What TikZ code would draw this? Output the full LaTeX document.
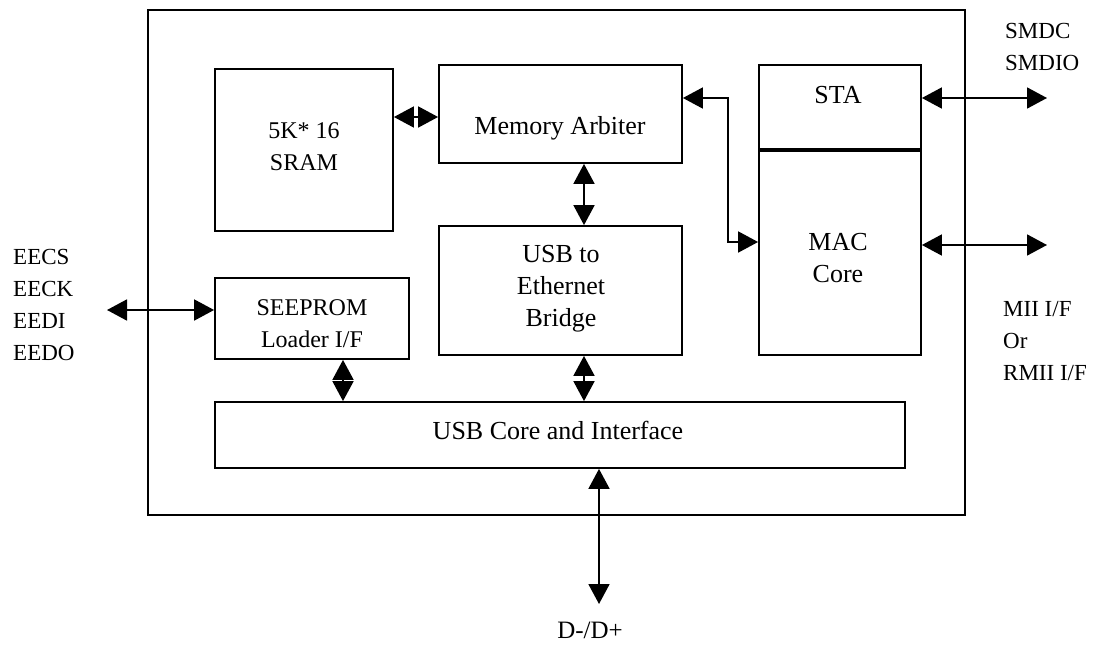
\documentclass[tikz,border=0pt]{standalone}
\usepackage{fontspec}
\setmainfont{Liberation Serif}
\usetikzlibrary{arrows.meta,calc}
\begin{document}
\begin{tikzpicture}[x=1pt,y=-1pt,
  box/.style={draw,line width=1.8pt,rectangle,inner sep=0pt},
  lbl/.style={font=\fontsize{26}{32}\selectfont,align=center,anchor=base,inner sep=0pt},
  lblsm/.style={font=\fontsize{24}{32}\selectfont,align=center,anchor=base,inner sep=0pt},
  side/.style={font=\fontsize{23}{31.7}\selectfont,align=left,anchor=base west,inner sep=0pt},
  tipA/.tip={Triangle[length=20pt,width=21pt]},
  bi/.style={line width=1.8pt,tipA-tipA}]
\useasboundingbox (0,0) rectangle (1104,645);

% boxes
\node[box,minimum width=817pt,minimum height=505pt] (outer) at (556.5,262.5) {};
\node[box,minimum width=178pt,minimum height=162pt] (sram) at (304,150) {};
\node[box,minimum width=243pt,minimum height=98pt] (memarb) at (560.5,114) {};
\node[box,minimum width=243pt,minimum height=129pt] (bridge) at (560.5,290.5) {};
\node[box,minimum width=162pt,minimum height=84pt] (sta) at (840,107) {};
\node[box,minimum width=162pt,minimum height=204pt] (mac) at (840,253) {};
\node[box,minimum width=194pt,minimum height=81pt] (seeprom) at (312,318.5) {};
\node[box,minimum width=690pt,minimum height=66pt] (usbcore) at (560,435) {};

% box texts (base anchor = baseline of the last line)
\node[lblsm] (sramT) at (304,170) {5K* 16\\SRAM};
\node[lbl] (memarbT) at (560,134) {Memory Arbiter};
\node[lbl] (bridgeT) at (561,326) {USB to\\Ethernet\\Bridge};
\node[lbl] (staT) at (838,103) {STA};
\node[lbl] (macT) at (838,282) {MAC\\Core};
\node[lblsm] (seepromT) at (312,347) {SEEPROM\\Loader I/F};
\node[lbl] (usbcoreT) at (558,439) {USB Core and Interface};

% side labels
\node[side] (eeT) at (13,360) {EECS\\EECK\\EEDI\\EEDO};
\node[side] (smT) at (1005,70) {SMDC\\SMDIO};
\node[side] (miiT) at (1003,380) {MII I/F\\Or\\RMII I/F};
\node[lbl,font=\fontsize{25}{30}\selectfont] (dT) at (590,638) {D-/D+};

% free ends
\coordinate (eeEnd) at (107,310);
\coordinate (staEnd) at (1047,98);
\coordinate (macEnd) at (1047,245);
\coordinate (dEnd) at (599,604);

% connectors
\draw[bi] ([yshift=-3pt]sram.east |- memarb.west) -- ([yshift=-3pt]memarb.west);
\draw[bi] ([xshift=23.5pt]memarb.south) -- ([xshift=23.5pt]bridge.north);
\draw[bi] ([yshift=16pt]memarb.east) -- ++(45,0) |- ([yshift=11pt]mac.west);
\draw[bi] ([yshift=9pt]sta.east) -- (staEnd);
\draw[bi] ([yshift=8pt]mac.east) -- (macEnd);
\draw[bi] (eeEnd) -- ([yshift=8.5pt]seeprom.west);
\draw[bi] ([xshift=31pt]seeprom.south) -- ([xshift=31pt]seeprom.south |- usbcore.north);
\draw[bi] ([xshift=23.5pt]bridge.south) -- ([xshift=23.5pt]bridge.south |- usbcore.north);
\draw[bi] ([xshift=39pt]usbcore.south) -- (dEnd);
\end{tikzpicture}
\end{document}
